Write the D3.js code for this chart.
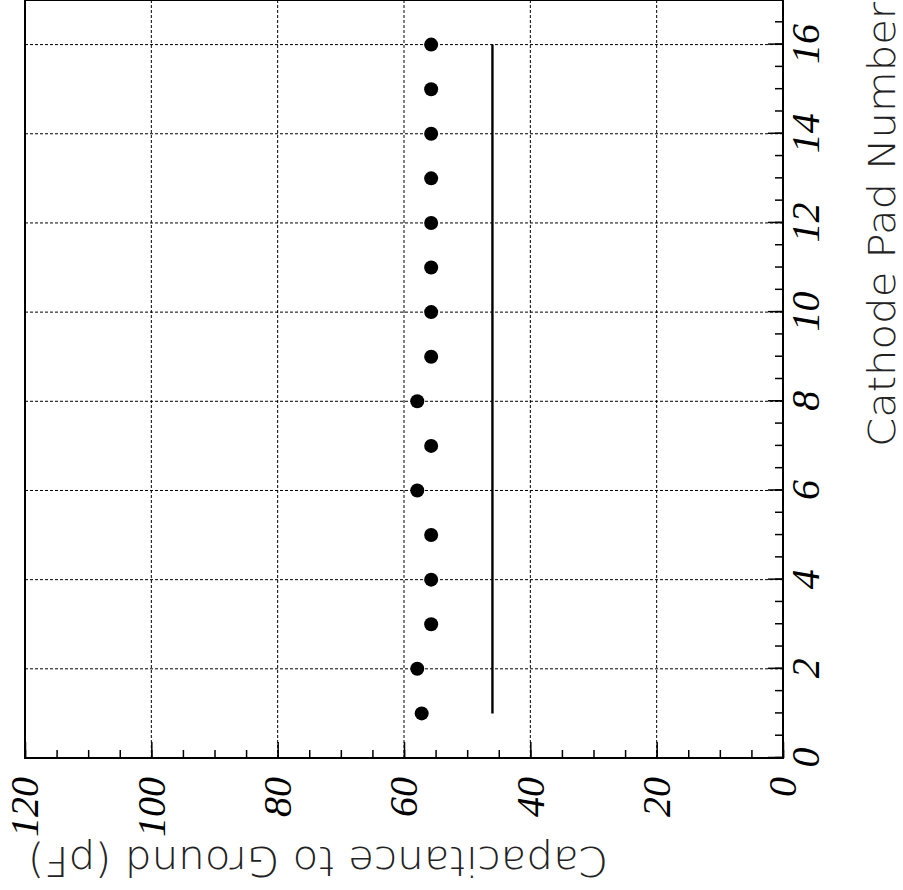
<!DOCTYPE html>
<html>
<head>
<meta charset="utf-8">
<script src="https://cdn.jsdelivr.net/npm/d3@7"></script>
<style>
  html, body { margin: 0; padding: 0; background: #fff; }
  svg { display: block; }
</style>
</head>
<body>
<svg id="chart" width="903" height="890"></svg>
<script>
// Measured capacitance of each cathode pad to ground
const pads = [1, 2, 3, 4, 5, 6, 7, 8, 9, 10, 11, 12, 13, 14, 15, 16];
const capacitance = [57.2, 57.9, 55.7, 55.7, 55.7, 57.9, 55.7, 57.9, 55.7, 55.7, 55.7, 55.7, 55.7, 55.7, 55.7, 55.7];
// Reference level drawn across the pad range
const referencePads = [1, 16];
const referenceValue = [46, 46];
// Axis ticks
const padTicks = [0, 2, 4, 6, 8, 10, 12, 14, 16];
const capTicks = [0, 20, 40, 60, 80, 100, 120];
const padTitle = "Cathode Pad Number";
const capTitle = "Capacitance to Ground (pF)";

const W = 758, H = 758;
const svg = d3.select("#chart");
svg.append("rect").attr("width", 903).attr("height", 890).attr("fill", "#fff");

// The whole plot is laid out in its own frame and turned a quarter turn
const g = svg.append("g").attr("transform", "translate(25,758) rotate(-90)");

const x = d3.scaleLinear().domain([0, 17]).range([0, W]);
const y = d3.scaleLinear().domain([0, 120]).range([H, 0]);

// Grid
const grid = g.append("g").attr("stroke", "#000").attr("stroke-width", 1)
  .attr("stroke-dasharray", "3,2").attr("fill", "none");
grid.selectAll("line.gx").data(padTicks.filter(d => d > 0)).join("line")
  .attr("class", "gx")
  .attr("x1", d => x(d)).attr("x2", d => x(d)).attr("y1", 0).attr("y2", H);
grid.selectAll("line.gy").data(capTicks.filter(d => d > 0 && d < 120)).join("line")
  .attr("class", "gy")
  .attr("y1", d => y(d)).attr("y2", d => y(d)).attr("x1", 0).attr("x2", W);

// Minor and major ticks (pointing inward)
const minorPad = d3.range(0, 17.01, 0.5);
const minorCap = d3.range(0, 120.01, 5);
const tickFont = "'Liberation Serif', 'Times New Roman', serif";

g.append("g").attr("transform", `translate(0,${H})`)
  .call(d3.axisBottom(x).tickValues(minorPad).tickSize(-8).tickFormat(""))
  .call(a => a.select(".domain").remove())
  .selectAll("line").attr("stroke-width", 1.5);

const xAxis = g.append("g").attr("transform", `translate(0,${H})`)
  .call(d3.axisBottom(x).tickValues(padTicks).tickSize(-15).tickPadding(8).tickFormat(d3.format("d")));
xAxis.select(".domain").remove();
xAxis.selectAll("line").attr("stroke-width", 1.5);
xAxis.selectAll("text").attr("font-family", tickFont).attr("font-style", "italic")
  .attr("font-size", 40).attr("fill", "#000");

g.append("g")
  .call(d3.axisLeft(y).tickValues(minorCap).tickSize(-8).tickFormat(""))
  .call(a => a.select(".domain").remove())
  .selectAll("line").attr("stroke-width", 1.5);

const yAxis = g.append("g")
  .call(d3.axisLeft(y).tickValues(capTicks).tickSize(-16).tickPadding(19).tickFormat(d3.format("d")));
yAxis.select(".domain").remove();
yAxis.selectAll("line").attr("stroke-width", 1.5);
yAxis.selectAll("text").attr("font-family", tickFont).attr("font-style", "italic")
  .attr("font-size", 40).attr("fill", "#000");

// Frame
g.append("rect").attr("x", 0).attr("y", 0).attr("width", W).attr("height", H)
  .attr("fill", "none").attr("stroke", "#000").attr("stroke-width", 2);

// Reference line
g.append("path")
  .datum(referencePads.map((p, i) => [p, referenceValue[i]]))
  .attr("d", d3.line().x(d => x(d[0])).y(d => y(d[1])))
  .attr("stroke", "#000").attr("stroke-width", 2.4).attr("fill", "none");

// Measured points
g.selectAll("circle.pt").data(pads.map((p, i) => [p, capacitance[i]])).join("circle")
  .attr("class", "pt")
  .attr("cx", d => x(d[0])).attr("cy", d => y(d[1])).attr("r", 7).attr("fill", "#000");

// Axis titles
const titleFont = "'DejaVu Sans', sans-serif";
g.append("text").text(padTitle)
  .attr("x", 756).attr("y", 870).attr("text-anchor", "end")
  .attr("font-family", titleFont).attr("font-weight", 200).attr("font-size", 37)
  .attr("textLength", 445).attr("lengthAdjust", "spacingAndGlyphs").attr("fill", "#222");

g.append("text").text(capTitle)
  .attr("transform", "translate(-89,3) rotate(-90)").attr("text-anchor", "end")
  .attr("font-family", titleFont).attr("font-weight", 200).attr("font-size", 41)
  .attr("textLength", 580).attr("lengthAdjust", "spacingAndGlyphs").attr("fill", "#222");
</script>
</body>
</html>
